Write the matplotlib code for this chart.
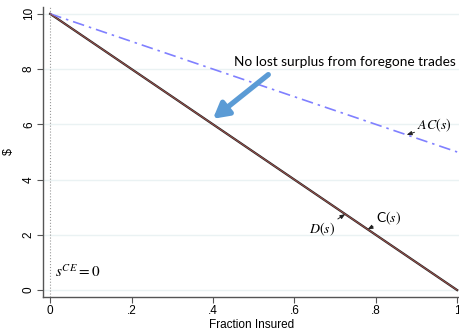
import numpy as np
import matplotlib.pyplot as plt

# fraction insured and the three curves
s = [0.0, 1.0]
demand = [10.0, 0.0]
cost = [10.0, 0.0]
avg_cost = [10.0, 5.0]

x_ticks = [0, 0.2, 0.4, 0.6, 0.8, 1.0]
x_tick_labels = ["0", ".2", ".4", ".6", ".8", "1"]
y_ticks = [0, 2, 4, 6, 8, 10]

plt.rcParams["font.family"] = ["Liberation Sans", "DejaVu Sans"]

fig = plt.figure(figsize=(4.6, 3.3), dpi=100)
ax = fig.add_axes([0.094, 0.1, 0.906, 0.879])

for yv in y_ticks:
    ax.axhline(yv, color="#eaf2f3", lw=1.0, zorder=0)
ax.axvline(0, color="#999999", lw=0.8, ls=":", zorder=1)

ax.plot(s, demand, color="#222222", lw=1.6, zorder=3)
ax.plot(s, cost, color="#a0524d", lw=0.7, zorder=4)
ax.plot(s, avg_cost, color="#8080ff", lw=1.2, dashes=(7, 3, 1.5, 3), zorder=3)

ax.set_xlim(-0.017, 1.007)
ax.set_ylim(-0.25, 10.25)
ax.set_xticks(x_ticks)
ax.set_xticklabels(x_tick_labels, fontsize=8.5)
ax.set_yticks(y_ticks)
ax.set_yticklabels([str(v) for v in y_ticks], fontsize=8.5, rotation=90, va="center")
ax.tick_params(direction="out", length=4, width=0.8, color="#555555", pad=2)
ax.set_xlabel("Fraction Insured", fontsize=8.5, labelpad=1)
ax.set_ylabel("$", fontsize=9, labelpad=6)

for side in ["top", "right"]:
    ax.spines[side].set_visible(False)
for side in ["left", "bottom"]:
    ax.spines[side].set_color("#555555")
    ax.spines[side].set_linewidth(1.0)

# annotation arrow
ax.annotate("", xy=(0.40, 6.2), xytext=(0.536, 7.8),
            arrowprops=dict(arrowstyle="-|>,head_width=0.5,head_length=0.9",
                            color="#5b9bd5", lw=3.8, shrinkA=0, shrinkB=0), zorder=5)
ax.text(0.452, 8.25, "No lost surplus from foregone trades", fontsize=9.8,
        family=["Lato", "DejaVu Sans"], ha="left", va="center")

small = dict(arrowstyle="-|>,head_width=0.12,head_length=0.3", color="#222222", lw=0.7,
             shrinkA=0, shrinkB=0)
ax.annotate("$AC(s)$", xy=(0.876, 5.62), xytext=(0.902, 5.95), fontsize=10,
            ha="left", va="center", arrowprops=small, math_fontfamily="stix")
ax.annotate("$D(s)$", xy=(0.725, 2.75), xytext=(0.70, 2.2), fontsize=10,
            ha="right", va="center", arrowprops=small, math_fontfamily="stix")
ax.annotate("C$(s)$", xy=(0.78, 2.2), xytext=(0.80, 2.6), fontsize=10,
            ha="left", va="center", arrowprops=small, math_fontfamily="stix",
            family=["Lato", "DejaVu Sans"])
ax.text(0.012, 0.35, "$s^{CE}=0$", fontsize=11, ha="left", va="bottom",
        math_fontfamily="stix")

fig.savefig("out.png", dpi=100)
